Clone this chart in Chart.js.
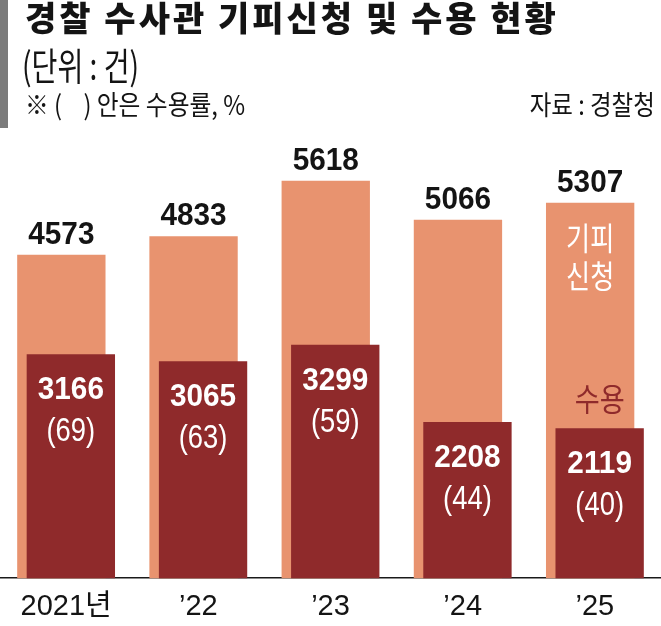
<!DOCTYPE html>
<html><head><meta charset="utf-8">
<script src="https://cdn.jsdelivr.net/npm/chart.js@4.4.0/dist/chart.umd.min.js"></script>
<style>
html,body{margin:0;padding:0;background:#fff;width:661px;height:626px;overflow:hidden;position:relative;}
#wrap{position:absolute;left:0;top:0;width:661px;height:640px;}
canvas{display:block;}
.t{position:absolute;white-space:nowrap;color:#141414;line-height:1;transform-origin:left top;font-family:"Noto Sans CJK KR",sans-serif;z-index:2;}
#gbar{position:absolute;left:0;top:0;width:8px;height:128px;background:#7b7b7b;}
#title{left:25px;top:0px;font-size:34px;font-weight:900;letter-spacing:3px;}
#unit{left:22px;top:45px;font-size:38px;transform:scaleX(0.74);}
#note{left:25px;top:90px;font-size:27px;transform:scaleX(0.88);}
#src{right:6px;top:90px;font-size:27px;transform:scaleX(0.87);transform-origin:right top;}
</style></head><body>
<div id="gbar"></div>
<div class="t" id="title">경찰 수사관 기피신청 및 수용 현황</div>
<div class="t" id="unit">(단위 : 건)</div>
<div class="t" id="note">※ (&nbsp;&nbsp;&nbsp;&nbsp;) 안은 수용률, %</div>
<div class="t" id="src">자료 : 경찰청</div>
<div id="wrap"><canvas id="c" width="661" height="640"></canvas></div>
<script>
const years = ['2021년', '’22', '’23', '’24', '’25'];
const applications = [4573, 4833, 5618, 5066, 5307];
const accepted = [3166, 3065, 3299, 2208, 2119];
const acceptRate = [69, 63, 59, 44, 40];
const seriesNames = ['기피신청', '수용'];

const LIGHT = '#e8936f';
const DARK = '#8f2a2b';
const NUM_FONT = '"Liberation Sans", Arial, sans-serif';
const KR = '"Noto Sans CJK KR", sans-serif';

function scaledText(ctx, text, x, y, sx) {
  ctx.save();
  ctx.translate(x, y);
  ctx.scale(sx, 1);
  ctx.fillText(text, 0, 0);
  ctx.restore();
}

// draw datasets in index order so the 수용 bars sit on top of the 기피신청 bars
const orderPlugin = {
  id: 'drawOrder',
  beforeDatasetsDraw(chart) {
    const metas = chart.getSortedVisibleDatasetMetas();
    for (const meta of metas) meta.controller.draw();
    return false;
  }
};

const labelPlugin = {
  id: 'labels',
  afterDraw(chart) {
    const ctx = chart.ctx;
    const m0 = chart.getDatasetMeta(0);
    const m1 = chart.getDatasetMeta(1);
    ctx.save();
    ctx.textAlign = 'center';
    ctx.textBaseline = 'alphabetic';
    m0.data.forEach((bar, i) => {
      ctx.fillStyle = '#141414';
      ctx.font = 'bold 32px ' + NUM_FONT;
      scaledText(ctx, String(applications[i]), bar.x, bar.y - 11, 0.93);
    });
    m1.data.forEach((bar, i) => {
      ctx.fillStyle = '#ffffff';
      ctx.font = 'bold 32px ' + NUM_FONT;
      scaledText(ctx, String(accepted[i]), bar.x, bar.y + 45, 0.93);
      ctx.font = '33px ' + NUM_FONT;
      scaledText(ctx, '(' + acceptRate[i] + ')', bar.x, bar.y + 87, 0.83);
    });
    const last = applications.length - 1;
    const lb = m0.data[last];
    const db = m1.data[last];
    ctx.font = '32px ' + KR;
    ctx.fillStyle = '#ffffff';
    scaledText(ctx, seriesNames[0].slice(0, 2), lb.x, lb.y + 47, 0.82);
    scaledText(ctx, seriesNames[0].slice(2), lb.x, lb.y + 85, 0.82);
    ctx.fillStyle = DARK;
    scaledText(ctx, seriesNames[1], db.x, db.y - 17, 0.85);
    ctx.restore();
  }
};

new Chart(document.getElementById('c'), {
  type: 'bar',
  data: {
    labels: years,
    datasets: [
      { label: seriesNames[0], data: applications, backgroundColor: LIGHT,
        categoryPercentage: 0.1437, barPercentage: 9.3 },
      { label: seriesNames[1], data: accepted, backgroundColor: DARK,
        categoryPercentage: 0.1437, barPercentage: 9.3 }
    ]
  },
  options: {
    responsive: false,
    animation: false,
    devicePixelRatio: 1,
    layout: { padding: { top: 83, left: 0, right: 0, bottom: 5 } },
    plugins: { legend: { display: false }, tooltip: { enabled: false } },
    scales: {
      x: {
        grid: { display: false, drawTicks: false },
        border: { display: true, color: '#1a1a1a', width: 1.5 },
        ticks: { color: '#141414', padding: 11, font: { family: NUM_FONT + ', ' + KR, size: 29 } }
      },
      y: { display: false, min: 0, max: 7000 }
    }
  },
  plugins: [orderPlugin, labelPlugin]
});
</script>
</body></html>
